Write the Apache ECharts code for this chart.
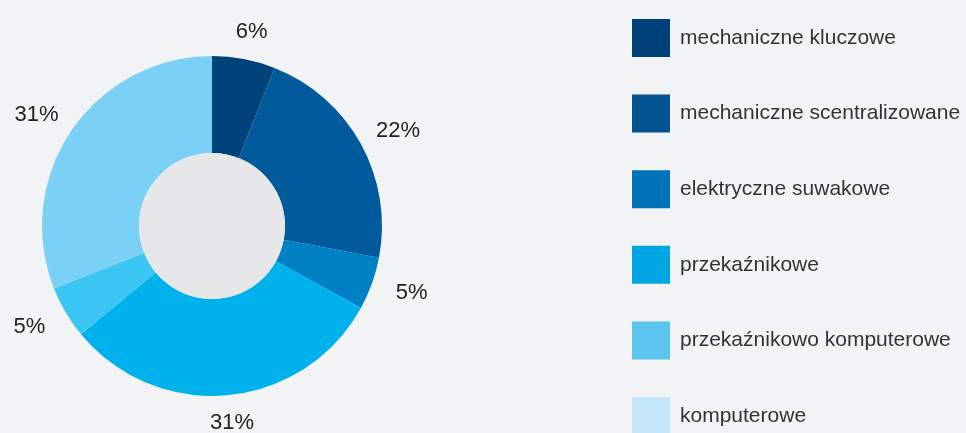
<!DOCTYPE html>
<html>
<head>
<meta charset="utf-8">
<script src="https://cdn.jsdelivr.net/npm/echarts@6/dist/echarts.min.js"></script>
<style>
    html, body { margin: 0; padding: 0; background: #f2f3f5; }
    #chart { width: 966px; height: 433px; }
</style>
</head>
<body>
<div id="chart"></div>
<script>
var names = [
    "mechaniczne kluczowe",
    "mechaniczne scentralizowane",
    "elektryczne suwakowe",
    "przekaźnikowe",
    "przekaźnikowo komputerowe",
    "komputerowe"
];
var values = [6, 22, 5, 31, 5, 31];
var sliceColors = ["#00437a", "#005a9c", "#0080c5", "#00b1eb", "#3bc7f4", "#7bd1f5"];
var legendColors = ["#00427a", "#005290", "#0072b8", "#00a6e4", "#5bc5f0", "#c6e7f9"];

function renderDonut(id) {
    //pierścień + etykiety na przezroczystym pierścieniu
    var cx = 212, cy = 226;
    var data = names.map((n, i) => ({
        name: n,
        value: values[i],
        itemStyle: { color: sliceColors[i] }
    }));
    var labelData = names.map((n, i) => ({ name: n, value: values[i] }));
    var legendData = names.map((n, i) => ({
        name: n,
        itemStyle: { color: legendColors[i] }
    }));
    var myChart = echarts.init(document.getElementById(id));
    var option = {
        animation: false,
        backgroundColor: "#f2f3f5",
        legend: {
            orient: "vertical",
            left: 632,
            top: 19,
            height: 480,
            padding: 0,
            icon: "rect",
            itemWidth: 38,
            itemHeight: 38,
            itemGap: 37.6,
            selectedMode: false,
            textStyle: {
                fontFamily: "Liberation Sans",
                fontSize: 21,
                color: "#333333",
                padding: [0, 0, 0, 5]
            },
            data: legendData
        },
        series: [{
            type: "pie",
            radius: [73, 170],
            center: [cx, cy],
            startAngle: 90,
            silent: true,
            data: data,
            label: { show: false },
            labelLine: { show: false }
        }, {
            type: "pie",
            radius: [0, 73],
            center: [cx, cy],
            silent: true,
            data: [{ name: "", value: 1, itemStyle: { color: "#e6e7e9" } }],
            label: { show: false },
            labelLine: { show: false }
        }, {
            type: "pie",
            radius: [188, 218],
            center: [cx, cy],
            startAngle: 90,
            silent: true,
            data: labelData,
            itemStyle: { color: "rgba(0,0,0,0)" },
            label: {
                show: true,
                position: "inside",
                formatter: "{c}%",
                fontFamily: "Liberation Sans",
                fontSize: 22,
                color: "#222222"
            },
            labelLine: { show: false },
            labelLayout: function (p) {
                var r = p.labelRect;
                var mx = r.x + r.width / 2 - cx;
                var my = r.y + r.height / 2 - cy;
                return { x: cx + mx * 1.03, y: cy + my * 0.96 };
            }
        }]
    };
    myChart.setOption(option);
}

renderDonut("chart");
</script>
</body>
</html>
